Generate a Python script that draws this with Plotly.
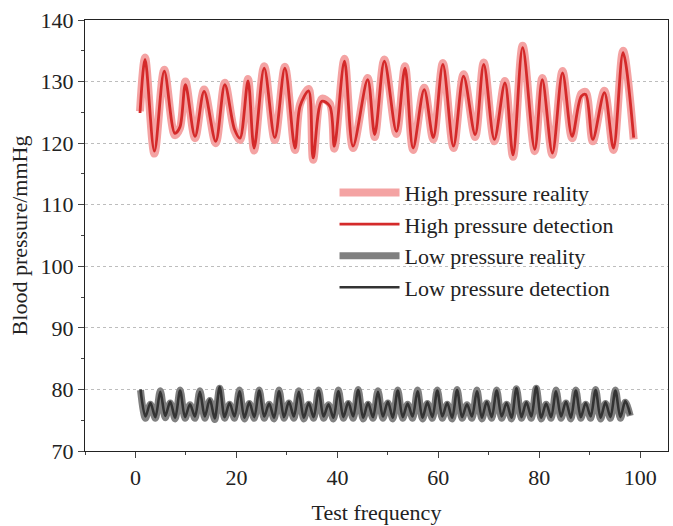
import plotly.graph_objects as go

# ---------------- data ----------------
# High pressure (systolic) – turning points
hi_x = [0.9, 1.9, 3.75, 5.7, 7.8, 8.8, 9.9, 11.8, 13.6, 15.9, 17.7, 19.6, 20.7, 22.3,
        23.5, 25.5, 27.6, 29.6, 31.6, 32.6, 34.3, 35.2, 36.9, 38.5, 39.4, 41.4, 43.1,
        46.0, 47.4, 49.3, 51.7, 53.4, 55.0, 57.2, 59.0, 60.9, 63.0, 65.0, 67.3, 69.0,
        71.1, 73.2, 74.8, 76.7, 79.1, 80.6, 82.6, 84.6, 86.5, 88.3, 89.2, 90.6, 92.9,
        94.7, 96.6, 98.7]
hi_detect = [124.9, 133.6, 118.7, 131.7, 121.6, 122.6, 129.5, 121.1, 128.4, 120.3, 129.5,
             122.3, 120.8, 130.1, 119.2, 132.2, 120.9, 132.2, 119.2, 126.0, 128.5, 117.6,
             126.8, 126.0, 119.5, 133.3, 119.5, 130.3, 121.4, 133.3, 121.9, 132.2, 119.2,
             128.7, 120.9, 132.8, 119.5, 130.9, 121.4, 132.8, 120.6, 129.8, 118.1, 135.5,
             119.0, 130.3, 118.4, 131.4, 121.1, 127.6, 127.9, 120.6, 128.2, 119.2, 134.7,
             120.9]
hi_real = [125.2, 133.9, 118.3, 131.9, 121.3, 122.4, 130.0, 120.8, 128.7, 120.0, 129.8,
           122.0, 120.5, 130.4, 118.8, 132.5, 120.5, 132.4, 118.9, 126.3, 128.8, 117.3,
           127.2, 126.4, 119.1, 133.7, 119.2, 130.6, 121.0, 133.6, 121.5, 132.5, 118.9,
           129.0, 120.6, 133.0, 119.2, 131.2, 121.0, 133.1, 120.3, 130.1, 117.8, 135.8,
           118.7, 130.6, 118.1, 131.7, 120.8, 128.0, 128.3, 120.3, 128.5, 118.9, 135.0,
           120.6]

# Low pressure (diastolic) – one value per test
test_pos = [1 + 0.98 * i for i in range(100)]
low_detect = [
    80.0, 75.6, 77.8, 75.5,  79.6, 75.7, 78.0, 75.4,  79.8, 75.5, 77.6, 75.6,
    79.6, 75.6, 78.4, 75.3,  80.4, 75.5, 77.8, 75.6,  79.7, 75.4, 77.9, 75.5,
    79.8, 75.6, 77.7, 75.4,  79.7, 75.5, 78.0, 75.6,  79.6, 75.4, 77.8, 75.5,
    79.8, 75.6, 77.6, 75.4,  79.7, 75.5, 77.9, 75.6,  79.9, 75.4, 77.8, 75.5,
    79.6, 75.6, 78.0, 75.4,  79.8, 75.5, 77.7, 75.6,  79.7, 75.4, 77.9, 75.5,
    79.8, 75.6, 77.8, 75.4,  79.9, 75.5, 77.6, 75.6,  79.7, 75.4, 78.0, 75.5,
    79.8, 75.6, 77.8, 75.4,  80.2, 75.5, 77.9, 75.6,  80.4, 75.4, 77.7, 75.5,
    79.7, 75.6, 78.0, 75.4,  79.8, 75.5, 77.8, 75.6,  79.9, 75.4, 77.9, 75.5,
    79.8, 75.5, 78.1, 75.9]
low_real = [
    79.9, 75.3, 77.6, 75.3,  79.8, 75.4, 77.8, 75.2,  79.9, 75.3, 77.5, 75.3,
    79.8, 75.3, 78.2, 75.1,  80.2, 75.3, 77.6, 75.3,  79.9, 75.2, 77.7, 75.3,
    79.9, 75.3, 77.6, 75.2,  79.9, 75.3, 77.8, 75.3,  79.8, 75.2, 77.6, 75.3,
    79.9, 75.3, 77.5, 75.2,  79.9, 75.3, 77.7, 75.3,  80.0, 75.2, 77.6, 75.3,
    79.8, 75.3, 77.8, 75.2,  79.9, 75.3, 77.6, 75.3,  79.9, 75.2, 77.7, 75.3,
    79.9, 75.3, 77.6, 75.2,  80.0, 75.3, 77.5, 75.3,  79.9, 75.2, 77.8, 75.3,
    79.9, 75.3, 77.6, 75.2,  80.1, 75.3, 77.7, 75.3,  80.2, 75.2, 77.6, 75.3,
    79.9, 75.3, 77.8, 75.2,  79.9, 75.3, 77.6, 75.3,  80.0, 75.2, 77.7, 75.3,
    79.9, 75.3, 77.9, 75.7]

x_ticks = [0, 20, 40, 60, 80, 100]
y_ticks = [70, 80, 90, 100, 110, 120, 130, 140]

FONT = "Liberation Serif"
FS = 22

fig = go.Figure()
fig.add_trace(go.Scatter(x=hi_x, y=hi_real, mode="lines", name="High pressure reality",
                         line=dict(color="#F4A3A3", width=8, shape="spline", smoothing=0.9)))
fig.add_trace(go.Scatter(x=hi_x, y=hi_detect, mode="lines", name="High pressure detection",
                         line=dict(color="#D42A2A", width=2.8, shape="spline", smoothing=0.9)))
fig.add_trace(go.Scatter(x=test_pos, y=low_real, mode="lines", name="Low pressure reality",
                         line=dict(color="#808080", width=7, shape="spline", smoothing=0.9)))
fig.add_trace(go.Scatter(x=test_pos, y=low_detect, mode="lines", name="Low pressure detection",
                         line=dict(color="#333333", width=2.6, shape="spline", smoothing=0.9)))

fig.update_layout(
    width=673, height=526,
    margin=dict(l=85, r=5, t=20, b=75),
    paper_bgcolor="white", plot_bgcolor="white",
    font=dict(family=FONT, size=FS, color="#222222"),
    showlegend=True,
    legend=dict(x=0.428, y=0.648, xanchor="left", yanchor="top",
                bgcolor="rgba(0,0,0,0)", font=dict(family=FONT, size=FS, color="#222222"),
                tracegroupgap=0, itemwidth=60),
)
fig.update_xaxes(
    range=[-10, 105.5], tickvals=x_ticks, ticks="outside", ticklen=6, tickwidth=1.2,
    minor=dict(ticks="outside", ticklen=3, tickwidth=1, dtick=10, tick0=0),
    showline=True, linecolor="#222222", linewidth=1.3, mirror=True,
    showgrid=False, zeroline=False,
    title=dict(text="Test frequency", font=dict(family=FONT, size=FS), standoff=16),
    tickfont=dict(family=FONT, size=FS),
)
fig.update_yaxes(
    range=[70, 140], tickvals=y_ticks, ticks="outside", ticklen=6, tickwidth=1.2,
    minor=dict(ticks="outside", ticklen=3, tickwidth=1, dtick=5, tick0=70),
    showline=True, linecolor="#222222", linewidth=1.3, mirror=True,
    showgrid=True, gridcolor="#BDBDBD", griddash="dot", gridwidth=1,
    zeroline=False,
    title=dict(text="Blood pressure/mmHg", font=dict(family=FONT, size=FS), standoff=6),
    tickfont=dict(family=FONT, size=FS),
)

fig.write_html("out.html")
